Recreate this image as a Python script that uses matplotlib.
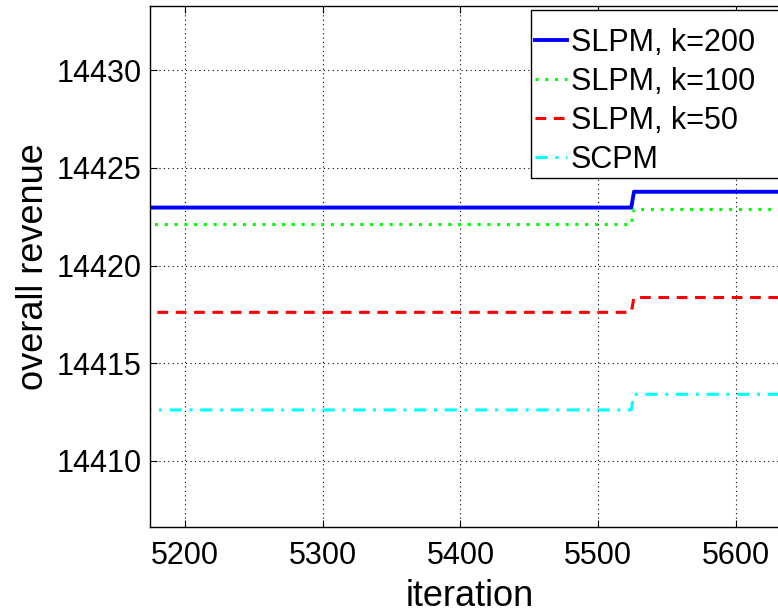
import matplotlib
matplotlib.use("Agg")
import matplotlib.pyplot as plt
from matplotlib.patches import Rectangle

plt.rcParams['font.family'] = ['Liberation Sans', 'DejaVu Sans']

iterations = [5100, 5524, 5526, 5700]
slpm_200 = [14422.97, 14422.97, 14423.78, 14423.78]
slpm_100 = [14422.1, 14422.1, 14422.87, 14422.87]
slpm_50 = [14417.6, 14417.6, 14418.36, 14418.36]
scpm = [14412.6, 14412.6, 14413.4, 14413.4]
labels = ['SLPM, k=200', 'SLPM, k=100', 'SLPM, k=50', 'SCPM']
xticks = [5200, 5300, 5400, 5500, 5600]
yticks = [14410, 14415, 14420, 14425, 14430]

W, H = 778, 616
fig = plt.figure(figsize=(W/100, H/100), dpi=100)
left, right, top, bottom = 150, 790, 6, 527
ax = fig.add_axes([left/W, (H-bottom)/H, (right-left)/W, (bottom-top)/H])

ax.plot(iterations, slpm_200, color='#0000ff', lw=2.8, ls='-', label=labels[0])
ax.plot(iterations, slpm_100, color='#00ff00', lw=2.2, ls=(0, (1, 2.2)), label=labels[1])
ax.plot(iterations, slpm_50, color='#ff0000', lw=2.2, ls=(0, (3.5, 2.5)), label=labels[2])
ax.plot(iterations, scpm, color='#00ffff', lw=2.2, ls=(0, (4, 2.5, 1, 2.5)), label=labels[3])

ax.set_xlim(5174.5, 5639.3)
ax.set_ylim(14406.6, 14433.3)
ax.set_xticks(xticks)
ax.set_yticks(yticks)
ax.tick_params(direction='in', labelsize=22, length=5, width=0.8, top=True, right=True)
ax.tick_params(axis='y', pad=6)
ax.tick_params(axis='x', pad=10)
ax.grid(True, color='black', ls=(0, (1, 3)), lw=0.8)
for s in ax.spines.values():
    s.set_linewidth(1.0)

ax.set_xlabel('iteration', fontsize=26, labelpad=6)
ax.set_ylabel('overall revenue', fontsize=26, labelpad=4)

# legend frame (drawn separately so the box runs off the right edge like the reference)
frame = Rectangle((531/W, 1-178/H), 300/W, 168/H, transform=fig.transFigure,
                  facecolor='white', edgecolor='black', lw=1.0, zorder=4.5, clip_on=False)
ax.add_artist(frame)
leg = ax.legend(loc='upper left', bbox_to_anchor=(535/W, 1-28/H), bbox_transform=fig.transFigure,
                borderaxespad=0, borderpad=0, fontsize=22, handlelength=1.05, handletextpad=0.12,
                labelspacing=0.29, frameon=False)
leg.set_zorder(5)

fig.savefig('out.png', dpi=100)
